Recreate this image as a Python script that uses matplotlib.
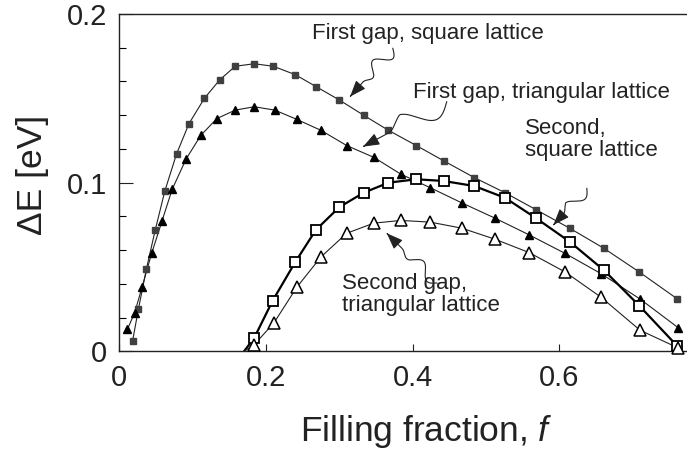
import numpy as np
import matplotlib
matplotlib.use("Agg")
from matplotlib import pyplot as plt
from matplotlib.path import Path
from matplotlib.patches import FancyArrowPatch
from matplotlib.transforms import IdentityTransform
from matplotlib.ticker import MultipleLocator

plt.rcParams['font.family'] = ['Liberation Sans', 'DejaVu Sans']
plt.rcParams['mathtext.fontset'] = 'custom'
plt.rcParams['mathtext.it'] = 'Liberation Sans:italic'
plt.rcParams['mathtext.rm'] = 'Liberation Sans'

# First gap, square lattice (filled squares)
f_sq1 = [0.018, 0.026, 0.037, 0.049, 0.062, 0.078, 0.095, 0.116, 0.137, 0.158, 0.184, 0.210, 0.240,
         0.268, 0.300, 0.333, 0.367, 0.405, 0.442, 0.484, 0.526, 0.568, 0.614, 0.661, 0.709, 0.761]
E_sq1 = [0.006, 0.025, 0.049, 0.072, 0.095, 0.117, 0.135, 0.150, 0.161, 0.169, 0.1705, 0.169, 0.164,
         0.157, 0.149, 0.140, 0.131, 0.122, 0.113, 0.103, 0.094, 0.084, 0.073, 0.061, 0.047, 0.031]

# First gap, triangular lattice (filled triangles)
f_tri1 = [0.011, 0.021, 0.031, 0.044, 0.058, 0.072, 0.091, 0.111, 0.133, 0.158, 0.184, 0.212, 0.242,
          0.275, 0.310, 0.347, 0.384, 0.424, 0.467, 0.512, 0.559, 0.608, 0.657, 0.710, 0.762]
E_tri1 = [0.013, 0.023, 0.038, 0.058, 0.077, 0.096, 0.114, 0.128, 0.138, 0.143, 0.145, 0.143, 0.1375,
          0.131, 0.122, 0.115, 0.105, 0.097, 0.088, 0.079, 0.069, 0.058, 0.046, 0.031, 0.014]

# Second gap, square lattice (open squares)
f_sq2 = [0.184, 0.209, 0.240, 0.268, 0.300, 0.333, 0.367, 0.405, 0.442, 0.484, 0.526, 0.568, 0.614,
         0.661, 0.709, 0.761]
E_sq2 = [0.008, 0.030, 0.053, 0.072, 0.0855, 0.094, 0.100, 0.102, 0.101, 0.098, 0.091, 0.079, 0.065,
         0.048, 0.027, 0.003]

# Second gap, triangular lattice (open triangles)
f_tri2 = [0.184, 0.211, 0.242, 0.275, 0.310, 0.347, 0.384, 0.424, 0.467, 0.512, 0.559, 0.608, 0.657,
          0.710, 0.762]
E_tri2 = [0.004, 0.017, 0.038, 0.056, 0.070, 0.076, 0.0776, 0.0766, 0.073, 0.0665, 0.0585, 0.047, 0.032,
          0.0125, 0.002]

# filling fraction where the second gaps open
f_open = 0.170

txt = '#222222'

fig = plt.figure(figsize=(6.87, 4.51), dpi=100)
ax = fig.add_axes([0.1737, 0.221, 0.8263, 0.748])
ax.set_xlim(0, 0.774)
ax.set_ylim(0, 0.2)

# lines
ax.plot(f_sq1, E_sq1, '-', color='#222222', lw=0.8)
ax.plot(f_tri1, E_tri1, '-', color='#222222', lw=0.8)
ax.plot([f_open] + f_sq2, [0] + E_sq2, '-', color='black', lw=1.6)
ax.plot([f_open] + f_tri2, [0] + E_tri2, '-', color='#222222', lw=0.8)

# markers
ax.plot(f_sq1, E_sq1, 's', ms=5, mfc='#404040', mec='#404040', clip_on=False, zorder=3)
ax.plot(f_tri1, E_tri1, '^', ms=6, mfc='black', mec='black', clip_on=False, zorder=3)
ax.plot(f_sq2, E_sq2, 's', ms=7.5, mfc='white', mec='black', mew=1.3, clip_on=False, zorder=3)
ax.plot(f_tri2, E_tri2, '^', ms=8, mfc='white', mec='black', mew=1.1, clip_on=False, zorder=3)

# axes styling
ax.spines['right'].set_visible(False)
for s in ['left', 'top', 'bottom']:
    ax.spines[s].set_linewidth(1.0)
    ax.spines[s].set_color('#222222')

ax.set_xticks([0, 0.2, 0.4, 0.6])
ax.set_xticklabels(['0', '0.2', '0.4', '0.6'])
ax.set_yticks([0, 0.1, 0.2])
ax.set_yticklabels(['0', '0.1', '0.2'])
ax.yaxis.set_minor_locator(MultipleLocator(0.02))
ax.tick_params(axis='x', direction='in', length=5, width=0.8, pad=9, labelsize=21, colors=txt)
ax.tick_params(axis='y', which='major', direction='in', length=10, width=0.8, pad=9, labelsize=21, colors=txt)
ax.tick_params(axis='y', which='minor', direction='in', length=5, width=0.8)

fig.text(300 / 687, 1 - 441 / 451, 'Filling fraction, $f$', fontsize=25.5, color=txt,
         ha='left', va='baseline')
fig.text(0.047, 0.612, 'ΔE [eV]', fontsize=25.5, color=txt, rotation=90, ha='center', va='center')

# annotations
fs = 16
ax.text(0.2628, 0.1851, 'First gap, square lattice', fontsize=fs, color=txt, va='baseline')
ax.text(0.4004, 0.1504, 'First gap, triangular lattice', fontsize=fs, color=txt, va='baseline')
ax.text(0.553, 0.1157, 'Second,\nsquare lattice', fontsize=fs, color=txt, va='baseline',
        linespacing=1.1)
ax.text(0.3033, 0.0238, 'Second gap,\ntriangular lattice', fontsize=fs, color=txt, va='baseline',
        linespacing=1.1)


def wavy_arrow(start, tip, waves=2.0, amp=7.0, frac=0.7):
    p0 = ax.transData.transform(start)
    p1 = ax.transData.transform(tip)
    d = p1 - p0
    n = np.array([-d[1], d[0]]) / np.hypot(*d)
    t = np.linspace(0, 1, 150)
    env = np.clip((frac - t) / 0.2, 0, 1)
    off = amp * np.sin(2 * np.pi * waves * t / frac) * env
    pts = p0 + np.outer(t, d) + np.outer(off, n)
    arr = FancyArrowPatch(path=Path(pts), arrowstyle='-|>,head_length=1.0,head_width=0.38',
                          mutation_scale=10, color='#222222', lw=0.8,
                          transform=IdentityTransform())
    fig.add_artist(arr)


def px(x, y):
    # convert reference pixel position to data coords
    return ((x - 119.3) / 733.3, (351.3 - y) / 1686.0)


wavy_arrow(px(392.7, 48.3), px(350, 96.7), waves=1.5, amp=7)
wavy_arrow(px(446.7, 101.7), px(363, 146.7), waves=1.0, amp=11)
wavy_arrow(px(586.7, 188.3), px(553.3, 225), waves=1.0, amp=6)
wavy_arrow(px(437, 283), px(386.7, 233.3), waves=1.5, amp=6)

fig.savefig('out.png', dpi=100)
